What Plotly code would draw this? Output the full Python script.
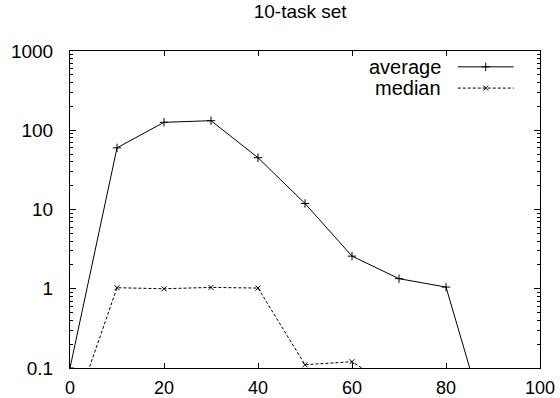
import plotly.graph_objects as go

x_vals = [0, 10, 20, 30, 40, 50, 60, 70, 80, 90, 100]
average = [0.1, 60, 126, 132, 45, 11.9, 2.58, 1.34, 1.05, 0.01, 0.01]
median = [0.02, 1.03, 1.0, 1.04, 1.02, 0.11, 0.12, 0.05, 0.05, 0.05, 0.05]
x_ticks = [0, 20, 40, 60, 80, 100]
y_ticks = [0.1, 1, 10, 100, 1000]
y_tick_labels = ["0.1", "1", "10", "100", "1000"]

FONT = "Liberation Sans, Arial, Helvetica, sans-serif"

fig = go.Figure()
fig.add_trace(go.Scatter(
    x=x_vals, y=average, mode="lines+markers", name="average",
    line=dict(color="black", width=1),
    marker=dict(symbol="cross-thin", size=6, line=dict(color="black", width=1)),
    showlegend=False,
))
fig.add_trace(go.Scatter(
    x=x_vals, y=median, mode="lines+markers", name="median",
    line=dict(color="black", width=1, dash="3px,2px"),
    marker=dict(symbol="x-thin", size=5, line=dict(color="black", width=1)),
    showlegend=False,
))

# legend samples (gnuplot style: text left, sample right) on an overlay axis
leg_x0, leg_x1 = 0.825, 0.944
leg_rows = [0.950, 0.883]
fig.add_trace(go.Scatter(x=[leg_x0, leg_x1], y=[leg_rows[0]] * 2, mode="lines",
                         line=dict(color="black", width=1), xaxis="x2", yaxis="y2",
                         showlegend=False, hoverinfo="skip"))
fig.add_trace(go.Scatter(x=[(leg_x0 + leg_x1) / 2], y=[leg_rows[0]], mode="markers",
                         marker=dict(symbol="cross-thin", size=6, line=dict(color="black", width=1)),
                         xaxis="x2", yaxis="y2", showlegend=False, hoverinfo="skip"))
fig.add_trace(go.Scatter(x=[leg_x0, leg_x1], y=[leg_rows[1]] * 2, mode="lines",
                         line=dict(color="black", width=1, dash="3px,2px"), xaxis="x2", yaxis="y2",
                         showlegend=False, hoverinfo="skip"))
fig.add_trace(go.Scatter(x=[(leg_x0 + leg_x1) / 2], y=[leg_rows[1]], mode="markers",
                         marker=dict(symbol="x-thin", size=5, line=dict(color="black", width=1)),
                         xaxis="x2", yaxis="y2", showlegend=False, hoverinfo="skip"))
for label, yy in zip(["average", "median"], leg_rows):
    fig.add_annotation(text=label, x=0.793, y=yy, xref="paper", yref="paper",
                       xanchor="right", yanchor="middle", showarrow=False,
                       font=dict(family=FONT, size=20, color="black"))

fig.update_layout(
    width=560, height=398,
    margin=dict(l=70, r=20, t=51, b=30, autoexpand=False),
    paper_bgcolor="white", plot_bgcolor="white",
    font=dict(family=FONT, size=19, color="black"),
    title=dict(text="10-task set", x=0.536, xref="container", xanchor="center",
               y=0.972, yref="container", yanchor="middle",
               font=dict(family=FONT, size=19, color="black")),
    xaxis=dict(range=[0, 100], tickvals=x_ticks, ticks="inside", ticklen=5,
               tickcolor="black", showline=True, linecolor="black", linewidth=1,
               mirror="ticks", showgrid=False, zeroline=False,
               ticklabelstandoff=3, tickfont=dict(family=FONT, size=18, color="black")),
    yaxis=dict(type="log", range=[-1, 3], tickvals=y_ticks, ticktext=y_tick_labels,
               ticks="inside", ticklen=6, tickcolor="black", showline=True,
               linecolor="black", linewidth=1, mirror="ticks", showgrid=False,
               zeroline=False, ticklabelstandoff=12,
               minor=dict(ticks="inside", ticklen=3, tickcolor="black", dtick="D1",
                          showgrid=False)),
    xaxis2=dict(overlaying="x", range=[0, 1], visible=False, domain=[0, 1]),
    yaxis2=dict(overlaying="y", range=[0, 1], visible=False),
)

fig.write_html("out.html", config={"displayModeBar": False},
               post_script="document.body.style.margin='0';document.body.style.padding='0';")
